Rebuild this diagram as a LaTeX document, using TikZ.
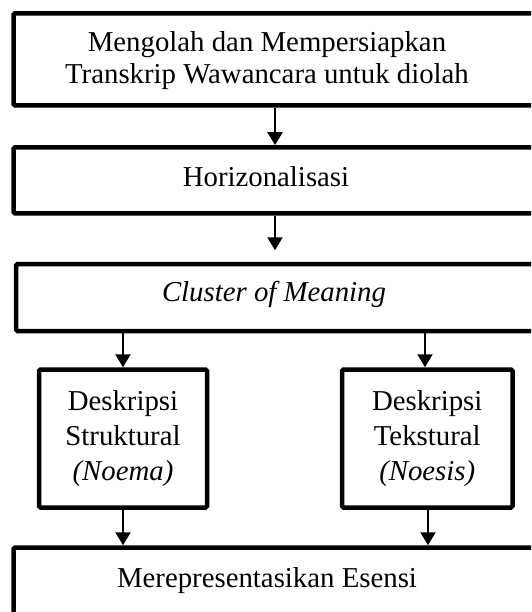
\documentclass[tikz,border=0pt]{standalone}
\usepackage{fontspec}
\setmainfont{Liberation Serif}
\usetikzlibrary{arrows.meta}
\begin{document}
\begin{tikzpicture}[x=1pt,y=-1pt,
  box/.style={draw, line width=4.5pt, rounded corners=1.5pt, inner sep=0pt},
  lbl/.style={font=\fontsize{28.8}{32}\selectfont, inner sep=0pt, align=center},
  sublbl/.style={font=\fontsize{28.8}{35}\selectfont, align=center},
  arr/.style={line width=2pt, -{Triangle[width=15pt,length=13pt]}}]
\useasboundingbox (0,0) rectangle (531,612);
\clip (0,0) rectangle (531,612);
% main boxes
\node[box, minimum width=526.5pt, minimum height=92pt] (b1) at (276.75,59.4) {};
\node[lbl] (t1) at (267,61) {Mengolah dan Mempersiapkan\\Transkrip Wawancara untuk diolah};
\node[box, minimum width=526.5pt, minimum height=66pt] (b2) at (276.75,180.4) {};
\node[lbl, anchor=base] (t2) at (266,186.7) {Horizonalisasi};
\node[box, minimum width=524pt, minimum height=67pt] (b3) at (278,297.5) {};
\node[lbl, anchor=base] (t3) at (274,301.7) {\itshape Cluster of Meaning};
% sub boxes
\node[box, sublbl, minimum width=168pt, minimum height=138pt] (s1) at (123,438.5) {Deskripsi\\Struktural\\\textit{(Noema)}};
\node[box, sublbl, minimum width=170.5pt, minimum height=138pt] (s2) at (427.25,438.5) {Deskripsi\\Tekstural\\\textit{(Noesis)}};
% bottom box
\node[box, minimum width=526.5pt, minimum height=80pt] (b4) at (276.75,587.5) {};
\node[lbl, anchor=base] (t4) at (267,587) {Merepresentasikan Esensi};
% connectors
\coordinate (xa) at (275,0);
\coordinate (xl) at (123,0);
\coordinate (xr) at (425,0);
\coordinate (xr2) at (428,0);
\draw[arr] (b1.south -| xa) -- (b2.north -| xa);
\draw[arr, shorten >=11.5pt] (b2.south -| xa) -- (b3.north -| xa);
\draw[arr] (b3.south -| xl) -- (s1.north -| xl);
\draw[arr] (b3.south -| xr) -- (s2.north -| xr);
\draw[arr] (s1.south -| xl) -- (b4.north -| xl);
\draw[arr] (s2.south -| xr2) -- (b4.north -| xr2);
\end{tikzpicture}
\end{document}
